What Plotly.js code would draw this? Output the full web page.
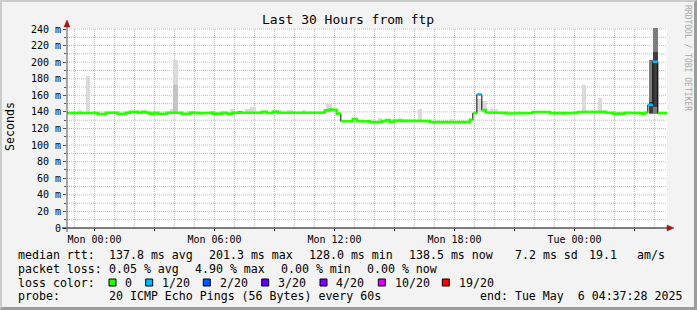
<!DOCTYPE html>
<html>
<head>
<meta charset="utf-8">
<script src="https://cdn.plot.ly/plotly-3.0.1.min.js"></script>
<style>
  html, body { margin: 0; padding: 0; background: #f3f3f3; }
  #wrap { position: relative; width: 697px; height: 310px; }
  #plot { width: 697px; height: 310px; }
  #frame { position: absolute; left: 0; top: 0; width: 697px; height: 310px; box-sizing: border-box;
           border-left: 2px solid #cbcbcb; border-top: 2px solid #cbcbcb;
           border-right: 3px solid #9c9c9c; border-bottom: 3px solid #9c9c9c; pointer-events: none; }
</style>
</head>
<body>
<div id="wrap"><div id="plot"></div><div id="frame"></div></div>
<script>
// ---------------- DATA ----------------
const startTime = "2025-05-04 22:37:28";
const endTime = "2025-05-06 04:37:28";

const medTime = [
  "2025-05-04 22:37:28","2025-05-04 22:55","2025-05-04 23:22","2025-05-05 00:10","2025-05-05 00:34",
  "2025-05-05 01:10","2025-05-05 01:34","2025-05-05 01:46","2025-05-05 02:10","2025-05-05 02:22",
  "2025-05-05 02:34","2025-05-05 02:46","2025-05-05 02:58","2025-05-05 03:10","2025-05-05 03:37",
  "2025-05-05 03:46","2025-05-05 04:01","2025-05-05 04:22","2025-05-05 04:46","2025-05-05 05:01",
  "2025-05-05 05:16","2025-05-05 05:37","2025-05-05 05:55","2025-05-05 06:22","2025-05-05 06:37",
  "2025-05-05 06:55","2025-05-05 07:10","2025-05-05 07:22","2025-05-05 08:22","2025-05-05 08:37",
  "2025-05-05 08:55","2025-05-05 09:10","2025-05-05 09:37","2025-05-05 10:46","2025-05-05 11:31",
  "2025-05-05 11:46","2025-05-05 11:55","2025-05-05 12:07","2025-05-05 12:19","2025-05-05 12:55",
  "2025-05-05 13:07","2025-05-05 13:46","2025-05-05 14:22","2025-05-05 14:34","2025-05-05 14:46",
  "2025-05-05 14:58","2025-05-05 15:22","2025-05-05 16:46","2025-05-05 18:46","2025-05-05 18:55",
  "2025-05-05 19:07","2025-05-05 19:22","2025-05-05 19:34","2025-05-05 20:22","2025-05-05 20:37",
  "2025-05-05 21:31","2025-05-05 21:55","2025-05-05 22:46","2025-05-05 23:22","2025-05-05 23:31",
  "2025-05-05 23:46","2025-05-06 00:10","2025-05-06 00:22","2025-05-06 00:55","2025-05-06 01:34",
  "2025-05-06 01:55","2025-05-06 02:31","2025-05-06 02:46","2025-05-06 03:22","2025-05-06 03:31",
  "2025-05-06 03:40","2025-05-06 03:55","2025-05-06 04:10"
];
const medVal = [
  138.7,137.9,138.6,137.5,139.0,
  137.7,139.0,140.0,139.0,140.2,
  139.0,137.9,139.0,137.7,139.0,
  139.3,139.0,137.7,139.2,138.8,
  138.1,139.0,137.9,139.0,137.9,
  139.0,139.9,139.0,140.2,138.7,
  140.0,139.0,139.3,139.0,141.9,
  143.1,142.3,137.9,128.7,131.4,
  128.7,127.7,128.9,130.1,128.1,
  129.5,129.0,127.7,130.5,138.5,
  161.0,142.1,139.3,138.9,138.1,
  138.7,139.9,138.5,137.7,138.5,
  138.7,139.9,139.3,140.2,139.0,
  137.9,139.0,138.5,137.5,139.0,
  148.4,200.5,138.5
];
const medLoss = [
  0,0,0,0,0, 0,0,0,0,0, 0,0,0,0,0, 0,0,0,0,0, 0,0,0,0,0, 0,0,0,0,0,
  0,0,0,0,0, 0,0,0,0,0, 0,0,0,0,0, 0,0,0,0,0, 1,0,0,0,0, 0,0,0,0,0,
  0,0,0,0,0, 0,0,0,0,0, 1,1,0
];

// smoke (ping spread) bands: start, end, low, high
const smokeLightStart = ["2025-05-04 23:10","2025-05-04 23:34","2025-05-05 03:46","2025-05-05 03:55","2025-05-05 04:58",
  "2025-05-05 06:46","2025-05-05 07:31","2025-05-05 07:46","2025-05-05 08:55","2025-05-05 09:37","2025-05-05 10:22",
  "2025-05-05 11:34","2025-05-05 14:10","2025-05-05 15:10","2025-05-05 16:10","2025-05-05 17:46","2025-05-05 19:07",
  "2025-05-05 19:22","2025-05-05 19:46","2025-05-05 21:01","2025-05-06 00:22","2025-05-06 01:10","2025-05-06 03:10"];
const smokeLightEnd = ["2025-05-04 23:22","2025-05-04 23:46","2025-05-05 03:55","2025-05-05 04:10","2025-05-05 05:10",
  "2025-05-05 06:58","2025-05-05 07:46","2025-05-05 08:04","2025-05-05 09:22","2025-05-05 09:55","2025-05-05 10:34",
  "2025-05-05 11:52","2025-05-05 14:22","2025-05-05 15:22","2025-05-05 16:22","2025-05-05 17:55","2025-05-05 19:22",
  "2025-05-05 19:37","2025-05-05 20:10","2025-05-05 21:22","2025-05-06 00:34","2025-05-06 01:22","2025-05-06 03:22"];
const smokeLightLow = [137.9,138.6,139.0,139.0,139.0, 138.0,139.0,139.0,139.0,139.0,139.0, 141.0,127.7,129.5,129.0,127.7,140.0,
  139.0,139.0,138.0,139.0,139.0,138.0];
const smokeLightHigh = [142.3,183.4,143.5,202.7,141.5, 143.5,143.5,146.3,142.3,142.3,142.3, 149.0,132.5,132.5,143.5,131.5,156.0,
  153.5,143.3,141.3,172.5,157.2,141.3];

const smokeMidStart = ["2025-05-05 03:55"];
const smokeMidEnd = ["2025-05-05 04:10"];
const smokeMidLow = [140.0];
const smokeMidHigh = [172.5];

const smokeGreyStart = ["2025-05-06 03:43","2025-05-06 03:55"];
const smokeGreyEnd = ["2025-05-06 03:55","2025-05-06 04:10"];
const smokeGreyLow = [138.0,138.0];
const smokeGreyHigh = [202.6,260.0];

const smokeDarkStart = ["2025-05-06 03:43","2025-05-06 03:55"];
const smokeDarkEnd = ["2025-05-06 03:55","2025-05-06 04:10"];
const smokeDarkLow = [139.0,146.0];
const smokeDarkHigh = [152.0,212.0];

const yTickVals = [0,20,40,60,80,100,120,140,160,180,200,220,240];
const yTickText = ["0","20 m","40 m","60 m","80 m","100 m","120 m","140 m","160 m","180 m","200 m","220 m","240 m"];
const yMinorVals = [10,30,50,70,90,110,130,150,170,190,210,230];
const xTickVals = ["2025-05-05 00:00","2025-05-05 03:00","2025-05-05 06:00","2025-05-05 09:00","2025-05-05 12:00",
  "2025-05-05 15:00","2025-05-05 18:00","2025-05-05 21:00","2025-05-06 00:00","2025-05-06 03:00"];
const xTickText = ["Mon 00:00","","Mon 06:00","","Mon 12:00","","Mon 18:00","","Tue 00:00",""];
const xMinorVals = ["2025-05-04 23:00","2025-05-05 01:00","2025-05-05 02:00","2025-05-05 04:00","2025-05-05 05:00",
  "2025-05-05 07:00","2025-05-05 08:00","2025-05-05 10:00","2025-05-05 11:00","2025-05-05 13:00","2025-05-05 14:00",
  "2025-05-05 16:00","2025-05-05 17:00","2025-05-05 19:00","2025-05-05 20:00","2025-05-05 22:00","2025-05-05 23:00",
  "2025-05-06 01:00","2025-05-06 02:00","2025-05-06 04:00"];

const lossLabels = ["0","1/20","2/20","3/20","4/20","10/20","19/20"];
const lossColors = ["#26ff00","#00b8ff","#0059ff","#5e00ff","#7e00ff","#dd00ff","#ff0000"];

// ---------------- HELPERS ----------------
const FONT = "DejaVu Sans Mono, monospace";
const L = 67, R = 667, T = 28, B = 228;
const px = x => (x - L) / (R - L);
const py = y => (B - y) / (B - T);
const toMs = s => new Date(s.replace(" ", "T") + (s.length === 16 ? ":00" : "")).getTime();
const pad2 = n => String(n).padStart(2, "0");
const msToStr = ms => { const d = new Date(ms);
  return `${d.getFullYear()}-${pad2(d.getMonth()+1)}-${pad2(d.getDate())} ${pad2(d.getHours())}:${pad2(d.getMinutes())}:${pad2(d.getSeconds())}`; };

function barTrace(starts, ends, lows, highs, color) {
  const xs = [], ws = [], ys = [];
  for (let i = 0; i < starts.length; i++) {
    const a = toMs(starts[i]), b = toMs(ends[i]);
    xs.push(msToStr((a + b) / 2));
    ws.push(b - a);
    ys.push(highs[i] - lows[i]);
  }
  return { type: "bar", x: xs, y: ys, base: lows, width: ws, marker: { color: color, line: { width: 0 } },
           hoverinfo: "skip", showlegend: false };
}

function lossTrace(level, color) {
  const xs = [], ys = [];
  const n = medTime.length;
  for (let i = 0; i < n; i++) {
    if (medLoss[i] !== level) continue;
    const t1 = i + 1 < n ? medTime[i + 1] : endTime;
    xs.push(medTime[i], t1); ys.push(medVal[i], medVal[i]);
    const cont = i + 1 < n && medLoss[i + 1] === level && Math.abs(medVal[i + 1] - medVal[i]) <= 5;
    if (!cont) { xs.push(null); ys.push(null); }
  }
  return { type: "scatter", mode: "lines", x: xs, y: ys, line: { color: color, width: 2.6 },
           connectgaps: false, hoverinfo: "skip", showlegend: false };
}

const traces = [
  barTrace(smokeLightStart, smokeLightEnd, smokeLightLow, smokeLightHigh, "#dadada"),
  barTrace(smokeMidStart, smokeMidEnd, smokeMidLow, smokeMidHigh, "#c4c4c4"),
  barTrace(smokeGreyStart, smokeGreyEnd, smokeGreyLow, smokeGreyHigh, "#7c7c7c"),
  barTrace(smokeDarkStart, smokeDarkEnd, smokeDarkLow, smokeDarkHigh, "#3e3e3e"),
  { type: "scatter", mode: "lines", x: medTime.concat([endTime]), y: medVal.concat([medVal[medVal.length - 1]]),
    line: { color: "#000000", width: 1, shape: "hv" }, hoverinfo: "skip", showlegend: false },
  lossTrace(0, lossColors[0]),
  lossTrace(1, lossColors[1])
];

// ---------------- ANNOTATIONS & SHAPES ----------------
const ann = [];
const shapes = [];
function txt(text, x, y, opts) {
  ann.push(Object.assign({ text: text, xref: "paper", yref: "paper", x: px(x), y: py(y), xanchor: "left",
    yanchor: "middle", showarrow: false, font: { family: FONT, size: 11.6, color: "#000" } }, opts || {}));
}

// grid
const GREY = "rgba(128,128,128,0.55)";
const RED = "rgba(222,81,81,0.5)";
const DASH = "1px,1px";
xMinorVals.forEach(t => shapes.push({ type: "line", layer: "below", xref: "x", yref: "paper", x0: t, x1: t, y0: 0, y1: 1,
  line: { color: GREY, width: 1, dash: DASH } }));
yMinorVals.forEach(v => shapes.push({ type: "line", layer: "below", xref: "paper", yref: "y", x0: 0, x1: 1, y0: v, y1: v,
  line: { color: GREY, width: 1, dash: DASH } }));
xTickVals.forEach(t => shapes.push({ type: "line", layer: "below", xref: "x", yref: "paper", x0: t, x1: t, y0: 0, y1: 1,
  line: { color: RED, width: 1, dash: DASH } }));
yTickVals.slice(1).forEach(v => shapes.push({ type: "line", layer: "below", xref: "paper", yref: "y", x0: 0, x1: 1, y0: v, y1: v,
  line: { color: RED, width: 1, dash: DASH } }));

txt("Last 30 Hours from ftp", 348, 19, { xanchor: "center", font: { family: FONT, size: 13, color: "#000" } });
txt("Seconds", 10, 127, { xanchor: "center", textangle: -90 });
txt("RRDTOOL / TOBI OETIKER", 688, 58, { xanchor: "center", textangle: 90, font: { family: FONT, size: 8, color: "#a8a8a8" } });

txt("median rtt:", 16, 255);
txt("137.8 ms avg", 107.3, 255);
txt("201.3 ms max", 207.3, 255);
txt("128.0 ms min", 306.7, 255);
txt("138.5 ms now", 407.3, 255);
txt("7.2 ms sd", 513.3, 255);
txt("19.1", 586.7, 255);
txt("am/s", 635, 255);

txt("packet loss:", 16, 268.5);
txt("0.05 % avg", 107.3, 268.5);
txt("4.90 % max", 193.3, 268.5);
txt("0.00 % min", 279.3, 268.5);
txt("0.00 % now", 365, 268.5);

txt("loss color:", 16, 282.5);
const boxX = [109, 145.7, 203.3, 261.7, 320, 378.3, 442.3];
for (let i = 0; i < lossLabels.length; i++) {
  shapes.push({ type: "rect", xref: "paper", yref: "paper", x0: px(boxX[i]), x1: px(boxX[i] + 7),
    y0: py(286), y1: py(279), fillcolor: lossColors[i], line: { color: "#000", width: 1 } });
  txt(lossLabels[i], boxX[i] + 14.3, 282.5);
}

txt("probe:", 16, 296);
txt("20 ICMP Echo Pings (56 Bytes) every 60s", 107.3, 296);
txt("end: Tue May  6 04:37:28 2025", 478.3, 296);

// axis lines and arrows
shapes.push({ type: "line", xref: "paper", yref: "paper", x0: px(62), x1: px(669), y0: 0, y1: 0,
  line: { color: "#000", width: 1 } });
shapes.push({ type: "line", xref: "paper", yref: "paper", x0: 0, x1: 0, y0: py(232), y1: py(24),
  line: { color: "#555", width: 1 } });
shapes.push({ type: "path", xref: "paper", yref: "paper",
  path: `M ${px(667)} ${py(225)} L ${px(674)} ${py(228)} L ${px(667)} ${py(231)} Z`,
  fillcolor: "#a01818", line: { color: "#a01818", width: 0.5 } });
shapes.push({ type: "path", xref: "paper", yref: "paper",
  path: `M ${px(64)} ${py(27)} L ${px(67)} ${py(20)} L ${px(70)} ${py(27)} Z`,
  fillcolor: "#a01818", line: { color: "#a01818", width: 0.5 } });

const layout = {
  width: 697, height: 310,
  margin: { l: L, r: 697 - R, t: T, b: 310 - B, pad: 0 },
  paper_bgcolor: "#f3f3f3", plot_bgcolor: "#ffffff",
  barmode: "overlay", bargap: 0,
  showlegend: false,
  xaxis: {
    type: "date", range: [startTime, endTime], fixedrange: true,
    tickmode: "array", tickvals: xTickVals, ticktext: xTickText,
    tickfont: { family: FONT, size: 10, color: "#000" },
    ticks: "outside", ticklen: 2, tickcolor: "#000",
    showgrid: false, showline: false, zeroline: false
  },
  yaxis: {
    range: [0, 241.2], fixedrange: true,
    tickmode: "array", tickvals: yTickVals, ticktext: yTickText,
    tickfont: { family: FONT, size: 10, color: "#000" },
    ticks: "outside", ticklen: 3, tickcolor: "#555",
    minor: { tickmode: "array", tickvals: yMinorVals, ticks: "outside", ticklen: 2, tickcolor: "#555", showgrid: false },
    showgrid: false, showline: false, zeroline: false
  },
  annotations: ann,
  shapes: shapes
};

Plotly.newPlot("plot", traces, layout, { staticPlot: true, displayModeBar: false });
</script>
</body>
</html>
